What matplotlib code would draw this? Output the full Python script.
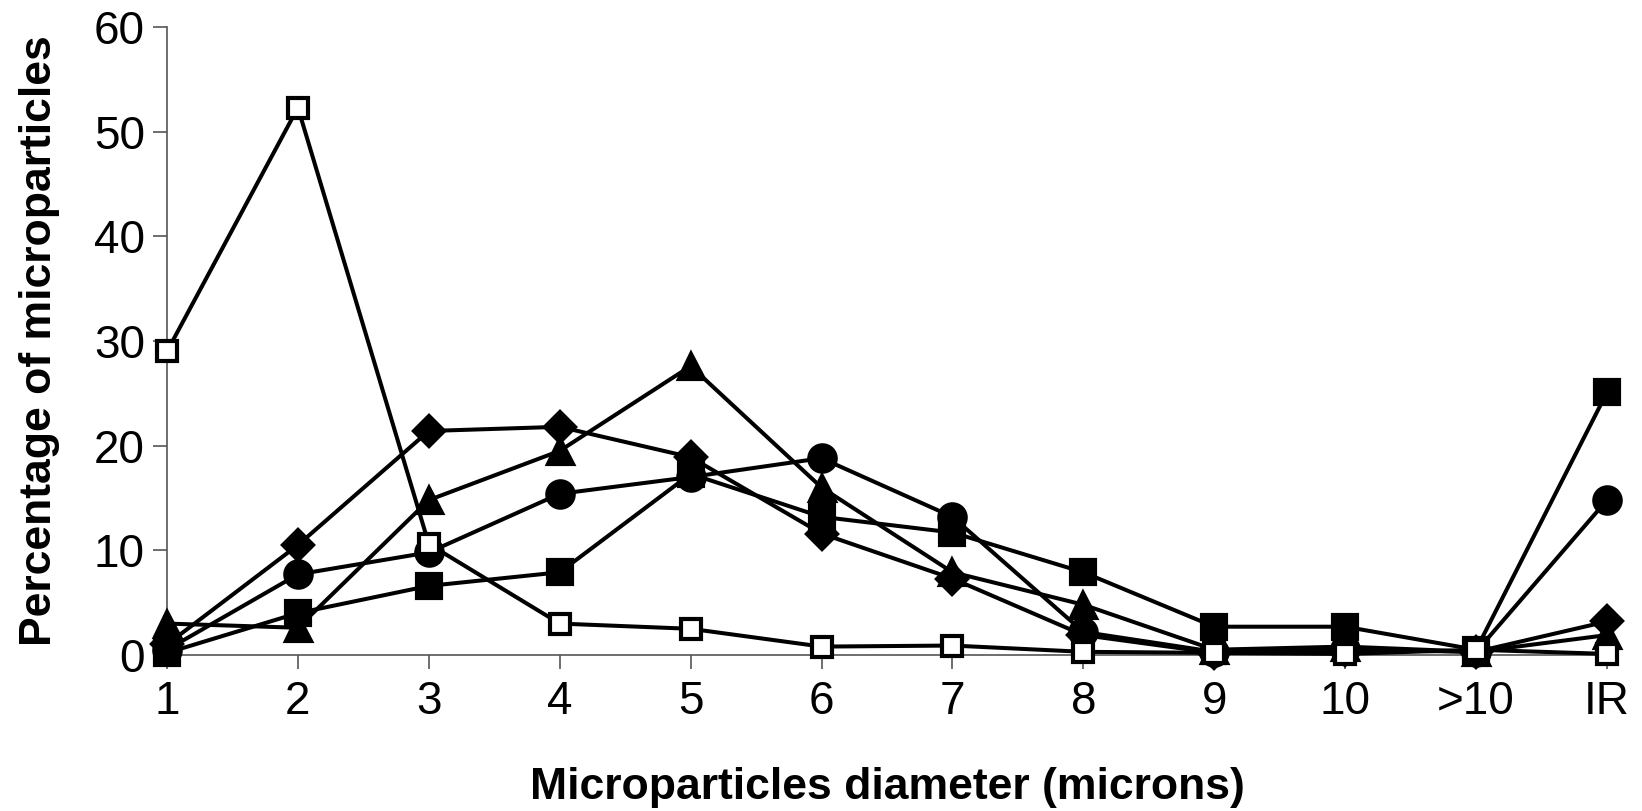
import matplotlib
matplotlib.use("Agg")
import matplotlib.pyplot as plt

plt.rcParams.update({"font.family": ["Liberation Sans", "DejaVu Sans"]})

categories = ["1", "2", "3", "4", "5", "6", "7", "8", "9", "10", ">10", "IR"]

diamond = [1.0, 10.5, 21.4, 21.8, 18.9, 11.6, 7.3, 1.9, 0.2, 0.5, 0.3, 3.2]
filled_square = [0.2, 4.0, 6.6, 7.9, 17.3, 13.2, 11.7, 7.9, 2.7, 2.7, 0.5, 25.1]
triangle = [3.0, 2.6, 14.8, 19.5, 27.6, 16.0, 7.9, 4.8, 0.5, 0.8, 0.3, 1.9]
circle = [0.5, 7.7, 9.8, 15.4, 17.0, 18.8, 13.2, 2.2, 0.3, 0.6, 0.3, 14.8]
open_square = [29.0, 52.3, 10.6, 3.0, 2.5, 0.8, 0.9, 0.3, 0.2, 0.1, 0.5, 0.1]

fig = plt.figure(figsize=(16.42, 8.11), dpi=100)
ax = fig.add_axes([0.1017, 0.1924, 0.877, 0.7743])

x = list(range(len(categories)))
LW = 2.9
series = [
    (diamond, "D", "black", 15),
    (filled_square, "s", "black", 17),
    (triangle, "^", "black", 18),
    (circle, "o", "black", 19),
    (open_square, "s", "white", 15),
]
for vals, mk, fc, ms in series:
    ax.plot(x, vals, color="black", linewidth=LW, marker=mk, markersize=ms,
            markerfacecolor=fc, markeredgecolor="black", markeredgewidth=3.0,
            clip_on=False, zorder=3)

ax.set_xlim(0, 11)
ax.set_ylim(0, 60)
ax.set_yticks(range(0, 61, 10))
ax.set_xticks(x)
ax.set_xticklabels(categories)
for s in ("top", "right"):
    ax.spines[s].set_visible(False)
for s in ("left", "bottom"):
    ax.spines[s].set_color("#555555")
    ax.spines[s].set_linewidth(1.2)
ax.tick_params(axis="both", labelsize=33, length=10, width=1.2, color="#555555",
               direction="out")
ax.tick_params(axis="x", pad=8)
ax.tick_params(axis="y", pad=6)

ax.set_xlabel("Microparticles diameter (microns)", fontsize=32,
              fontweight="bold", labelpad=31)
ax.set_ylabel("Percentage of microparticles", fontsize=32,
              fontweight="bold", labelpad=24)

fig.savefig("out.png", dpi=100)
